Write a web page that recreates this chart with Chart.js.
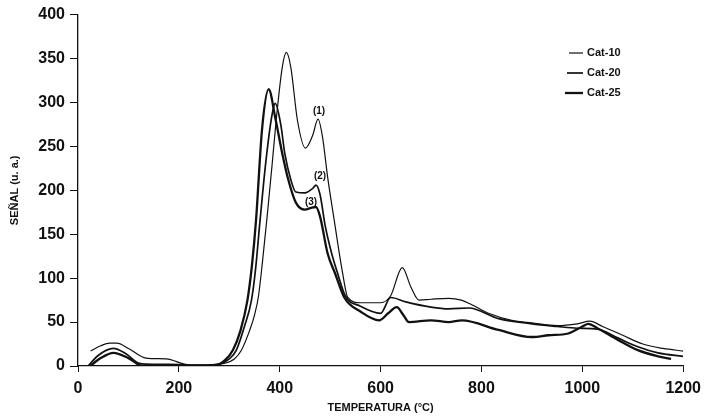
<!DOCTYPE html>
<html lang="es">
<head>
<meta charset="UTF-8">
<title>Señal vs temperatura</title>
<script src="https://cdn.jsdelivr.net/npm/chart.js"></script>
<style>
  html, body { margin: 0; padding: 0; background: #fff; }
  #wrap { width: 708px; height: 419px; }
</style>
</head>
<body>
<div id="wrap"><canvas id="c"></canvas></div>
<script>
// temperaturas (°C) y señal (u. a.)
const temps10 = [25, 45, 63, 77, 100, 135, 175, 213, 250, 270, 290, 310, 324, 340, 350, 358, 366, 375, 385, 393, 405, 413, 422, 435, 451, 465, 476, 485, 495, 508, 524, 535, 560, 600, 620, 643, 660, 676, 700, 735, 760, 780, 814, 860, 900, 950, 990, 1015, 1040, 1080, 1120, 1160, 1200];
const cat10   = [17, 23, 26, 26, 20, 9, 8, 2, 1, 2, 3, 8, 18, 40, 58, 80, 120, 170, 230, 280, 340, 357, 340, 280, 248, 262, 281, 260, 215, 166, 108, 78, 72, 72, 80, 112, 90, 75, 76, 77, 75, 70, 60, 52, 49, 46, 48, 51, 45, 35, 25, 20, 17];

const temps20 = [20, 40, 70, 95, 122, 150, 180, 220, 260, 280, 300, 314, 330, 344, 352, 361, 372, 383, 391, 402, 410, 422, 432, 450, 465, 472, 480, 490, 503, 515, 530, 560, 600, 620, 650, 700, 735, 775, 834, 900, 950, 990, 1030, 1070, 1110, 1150, 1200];
const cat20   = [0, 12, 20, 14, 3, 2, 2, 1, 1, 2, 8, 18, 45, 75, 110, 166, 230, 280, 299, 275, 242, 212, 198, 197, 202, 206, 195, 160, 128, 105, 80, 68, 60, 78, 73, 67, 65, 66, 54, 48, 45, 43, 42, 32, 22, 15, 11];

const temps25 = [24, 45, 70, 100, 128, 180, 240, 274, 292, 307, 322, 336, 345, 353, 365, 378, 392, 405, 417, 432, 450, 462, 472, 480, 495, 510, 528, 560, 597, 615, 632, 645, 656, 700, 735, 761, 834, 900, 933, 972, 1000, 1012, 1030, 1070, 1110, 1150, 1176];
const cat25   = [0, 9, 15, 9, 0, 0, 0, 1, 7, 18, 40, 75, 115, 166, 270, 315, 280, 242, 212, 186, 178, 180, 181, 170, 128, 105, 78, 62, 52, 60, 67, 58, 50, 52, 50, 52, 41, 33, 35, 37, 45, 48, 43, 30, 18, 11, 8];

const seriesNames = ['Cat-10', 'Cat-20', 'Cat-25'];
const xTicks = [0, 200, 400, 600, 800, 1000, 1200];
const yTicks = [0, 50, 100, 150, 200, 250, 300, 350, 400];

// etiquetas de los picos
const peakLabels = ['(1)', '(2)', '(3)'];
const peakX = [478, 480, 462];
const peakY = [290, 216, 186];

const toPts = (xs, ys) => xs.map((x, i) => ({ x: x, y: ys[i] }));
const widths = [1.2, 1.7, 2.3];
const datasets = [toPts(temps10, cat10), toPts(temps20, cat20), toPts(temps25, cat25)].map((d, i) => ({
  label: seriesNames[i],
  data: d,
  borderColor: '#111',
  borderWidth: widths[i],
  pointRadius: 0,
  fill: false,
  cubicInterpolationMode: 'monotone'
}));

const extras = {
  id: 'extras',
  afterDatasetsDraw(chart) {
    const ctx = chart.ctx;
    const xs = chart.scales.x, ys = chart.scales.y;
    ctx.save();
    ctx.fillStyle = '#111';
    ctx.font = 'bold 10px "Liberation Sans", Arial, sans-serif';
    ctx.textAlign = 'center';
    ctx.textBaseline = 'middle';
    peakLabels.forEach((t, i) => ctx.fillText(t, xs.getPixelForValue(peakX[i]), ys.getPixelForValue(peakY[i])));

    // leyenda
    ctx.font = 'bold 11px "Liberation Sans", Arial, sans-serif';
    ctx.textAlign = 'left';
    chart.data.datasets.forEach((ds, i) => {
      const y = 53 + i * 20;
      ctx.strokeStyle = '#111';
      ctx.lineWidth = ds.borderWidth;
      ctx.beginPath();
      ctx.moveTo(569 - i * 2, y);
      ctx.lineTo(583, y);
      ctx.stroke();
      ctx.fillText(ds.label, 587, y);
    });
    ctx.restore();
  }
};

const tickFont = { family: '"Liberation Sans", Arial, sans-serif', size: 16, weight: 'bold' };
const titleFont = { family: '"Liberation Sans", Arial, sans-serif', size: 11, weight: 'bold' };

new Chart(document.getElementById('c'), {
  type: 'line',
  data: { datasets: datasets },
  options: {
    responsive: true,
    maintainAspectRatio: false,
    animation: false,
    layout: { padding: { left: 0, right: 23, top: 14, bottom: 0 } },
    plugins: { legend: { display: false }, tooltip: { enabled: false } },
    scales: {
      x: {
        type: 'linear',
        min: 0, max: 1200,
        afterBuildTicks: s => { s.ticks = xTicks.map(v => ({ value: v })); },
        afterFit: s => { s.height = 53; },
        ticks: { color: '#111', font: tickFont, padding: 7, maxRotation: 0, callback: v => String(v) },
        grid: { drawOnChartArea: false, drawTicks: true, tickLength: 6, color: '#111' },
        border: { display: true, color: '#111', width: 1.3 },
        title: { display: true, text: 'TEMPERATURA (°C)', color: '#111', font: titleFont, padding: { top: 0, bottom: 4 } }
      },
      y: {
        min: 0, max: 400,
        afterBuildTicks: s => { s.ticks = yTicks.map(v => ({ value: v })); },
        afterFit: s => { s.width = 78; },
        ticks: { color: '#111', font: tickFont, padding: 5, callback: v => String(v) },
        grid: { drawOnChartArea: false, drawTicks: true, tickLength: 8, color: '#111' },
        border: { display: true, color: '#111', width: 1.3 },
        title: { display: true, text: 'SEÑAL (u. a.)', color: '#111', font: titleFont, padding: { top: 8, bottom: 0 } }
      }
    }
  },
  plugins: [extras]
});
</script>
</body>
</html>
